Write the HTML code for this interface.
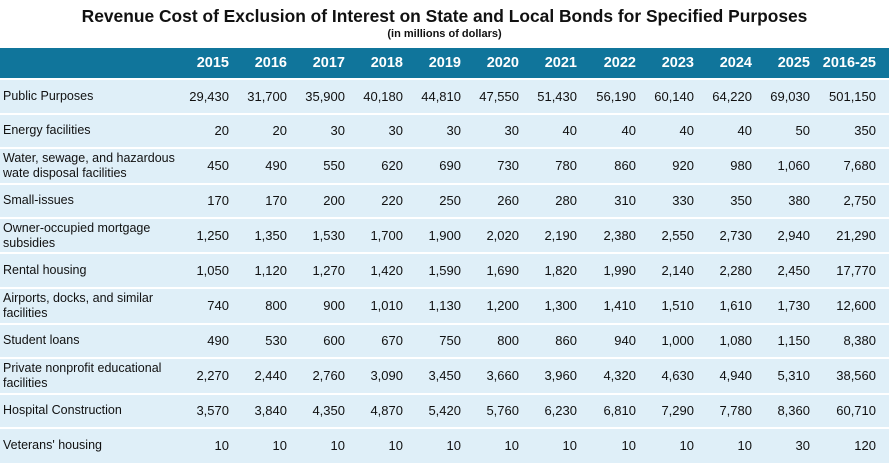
<!DOCTYPE html>
<html><head><meta charset="utf-8"><style>
body{margin:0;width:889px;height:463px;background:#fff;font-family:"Liberation Sans",sans-serif;overflow:hidden;position:relative;color:#111}
.t{position:absolute;left:0;width:889px;text-align:center;font-weight:bold}
.hdr{position:absolute;left:0;top:48px;width:889px;height:30px;background:#10759b}
.row{position:absolute;left:0;width:889px;background:#dfeff8;border-top:2px solid #fff;box-sizing:border-box}
.c{position:absolute;text-align:right;width:70px;font-size:13px}
.h{color:#fff;font-weight:bold;font-size:14.5px}
.l{position:absolute;left:3px;font-size:12.5px;line-height:15px}
</style></head><body>
<div class="t" style="top:6px;font-size:17.4px">Revenue Cost of Exclusion of Interest on State and Local Bonds for Specified Purposes</div>
<div class="t" style="top:28px;font-size:11px">(in millions of dollars)</div>
<div class="hdr"></div>
<div id="w"></div>
<script>
var R=[229,287,345,403,461,519,577,636,694,752,810,876];
var H=["2015","2016","2017","2018","2019","2020","2021","2022","2023","2024","2025","2016-25"];
var D=[
["Public Purposes","29,430","31,700","35,900","40,180","44,810","47,550","51,430","56,190","60,140","64,220","69,030","501,150"],
["Energy facilities","20","20","30","30","30","30","40","40","40","40","50","350"],
["Water, sewage, and hazardous<br>wate disposal facilities","450","490","550","620","690","730","780","860","920","980","1,060","7,680"],
["Small-issues","170","170","200","220","250","260","280","310","330","350","380","2,750"],
["Owner-occupied mortgage<br>subsidies","1,250","1,350","1,530","1,700","1,900","2,020","2,190","2,380","2,550","2,730","2,940","21,290"],
["Rental housing","1,050","1,120","1,270","1,420","1,590","1,690","1,820","1,990","2,140","2,280","2,450","17,770"],
["Airports, docks, and similar<br>facilities","740","800","900","1,010","1,130","1,200","1,300","1,410","1,510","1,610","1,730","12,600"],
["Student loans","490","530","600","670","750","800","860","940","1,000","1,080","1,150","8,380"],
["Private nonprofit educational<br>facilities","2,270","2,440","2,760","3,090","3,450","3,660","3,960","4,320","4,630","4,940","5,310","38,560"],
["Hospital Construction","3,570","3,840","4,350","4,870","5,420","5,760","6,230","6,810","7,290","7,780","8,360","60,710"],
["Veterans' housing","10","10","10","10","10","10","10","10","10","10","30","120"]];
var tops=[78,113,147,183,217,252,287,323,357,393,427,463];
var s="";
for(var i=0;i<12;i++)s+='<div class="c h" style="left:'+(R[i]-70)+'px;top:55px">'+H[i]+'</div>';
for(var r=0;r<11;r++){var t=tops[r],h=tops[r+1]-t,m=t+h/2;
s+='<div class="row" style="top:'+t+'px;height:'+h+'px"></div>';
var two=D[r][0].indexOf("<br>")>0;
s+='<div class="l" style="top:'+(m-(two?15:8)+1)+'px">'+D[r][0]+'</div>';
for(var i=0;i<12;i++)s+='<div class="c" style="left:'+(R[i]-70)+'px;top:'+(m-7)+'px">'+D[r][i+1]+'</div>';}
document.getElementById("w").innerHTML=s;
</script>
</body></html>
